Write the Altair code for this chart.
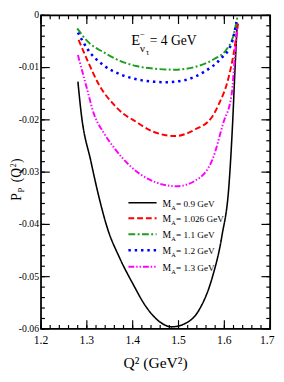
import altair as alt
import pandas as pd

# ---------------- data ----------------
q_09 = [1.2805, 1.2875, 1.309, 1.3265, 1.344, 1.372, 1.4006, 1.4288, 1.457, 1.4854,
        1.5136, 1.5453, 1.5735, 1.5947, 1.6105, 1.618, 1.623, 1.628]
p_09 = [-0.0127, -0.0186, -0.0280, -0.0348, -0.0405, -0.0465, -0.0514, -0.0557, -0.0585, -0.0596,
        -0.0590, -0.0563, -0.0502, -0.0422, -0.0320, -0.0207, -0.0108, -0.0016]

q_1026 = [1.282, 1.3017, 1.3265, 1.358, 1.379, 1.4006, 1.443, 1.492, 1.535, 1.5735,
          1.588, 1.609, 1.6195, 1.630]
p_1026 = [-0.0047, -0.0087, -0.0133, -0.0170, -0.0188, -0.0200, -0.0222, -0.0231, -0.0219, -0.0194,
          -0.0170, -0.0120, -0.0077, -0.0016]

q_11 = [1.279, 1.3017, 1.337, 1.372, 1.4076, 1.446, 1.492, 1.535, 1.577, 1.605, 1.619, 1.629]
p_11 = [-0.0025, -0.0050, -0.0071, -0.0087, -0.0097, -0.0102, -0.0104, -0.0099, -0.0084, -0.0065,
        -0.0041, -0.0001]

q_12 = [1.2805, 1.3017, 1.337, 1.376, 1.418, 1.446, 1.471, 1.5136, 1.556, 1.591, 1.616, 1.6265]
p_12 = [-0.0033, -0.0065, -0.0096, -0.0114, -0.0124, -0.0127, -0.0128, -0.0124, -0.0108, -0.0084,
        -0.0053, -0.0013]

q_13 = [1.2805, 1.298, 1.316, 1.337, 1.3617, 1.393, 1.436, 1.496, 1.535, 1.5735, 1.598, 1.616,
        1.623, 1.628]
p_13 = [-0.0076, -0.0133, -0.0190, -0.0225, -0.0256, -0.0287, -0.0314, -0.0327, -0.0317, -0.0277,
        -0.0205, -0.0151, -0.0077, -0.0022]

ma_labels = ["0.9", "1.026", "1.1", "1.2", "1.3"]

x_major = [1.2, 1.3, 1.4, 1.5, 1.6, 1.7]
x_major_labels = ["1.2", "1.3", "1.4", "1.5", "1.6", "1.7"]
y_major = [-0.06, -0.05, -0.04, -0.03, -0.02, -0.01, 0.0]
y_major_labels = ["-0.06", "-0.05", "-0.04", "-0.03", "-0.02", "-0.01", "0"]
x_minor = [round(1.2 + 0.02 * i, 3) for i in range(26)]
y_minor = [round(-0.06 + 0.002 * i, 4) for i in range(31)]

# ---------------- styling ----------------
W, H = 236, 323
FONT = "Liberation Serif"
styles = [
    (q_09, p_09, "#000000", [1, 0], 1.6),
    (q_1026, p_1026, "#ff0000", [6, 3], 2.0),
    (q_11, p_11, "#1e9e1e", [7, 2.5, 2, 2.5], 2.0),
    (q_12, p_12, "#0000ff", [2.5, 4], 2.6),
    (q_13, p_13, "#ff00ff", [6, 2, 1.5, 2, 1.5, 2], 2.0),
]

xscale = alt.Scale(domain=[1.2, 1.7], nice=False, zero=False)
yscale = alt.Scale(domain=[-0.06, 0.0], nice=False, zero=False)

layers = []
for (q, p, col, dash, sw) in styles:
    df = pd.DataFrame({"q": q, "p": p})
    layers.append(alt.Chart(df).mark_line(
        color=col, strokeDash=dash, strokeWidth=sw, interpolate="monotone", clip=True
    ).encode(
        x=alt.X("q:Q", scale=xscale, axis=None),
        y=alt.Y("p:Q", scale=yscale, axis=None),
        order="q:Q",
    ))

# ---------------- inward ticks on all four sides ----------------
def vticks(vals, length, top):
    d = pd.DataFrame({"v": vals})
    y0, y1 = (0, length) if top else (H, H - length)
    return alt.Chart(d).mark_rule(color="black", strokeWidth=1.2).encode(
        x=alt.X("v:Q", scale=xscale, axis=None), y=alt.value(y0), y2=alt.value(y1))

def hticks(vals, length, right):
    d = pd.DataFrame({"v": vals})
    x0, x1 = (W, W - length) if right else (0, length)
    return alt.Chart(d).mark_rule(color="black", strokeWidth=1.2).encode(
        y=alt.Y("v:Q", scale=yscale, axis=None), x=alt.value(x0), x2=alt.value(x1))

ticks = [
    vticks(x_major, 9, False), vticks(x_minor, 4, False),
    vticks(x_major, 9, True), vticks(x_minor, 4, True),
    hticks(y_major, 9, False), hticks(y_minor, 4, False),
    hticks(y_major, 9, True), hticks(y_minor, 4, True),
]

# ---------------- tick labels through the scales ----------------
xlab = alt.Chart(pd.DataFrame({"v": x_major[:-1], "t": x_major_labels[:-1]})).mark_text(
    font=FONT, fontSize=12, color="black", align="center", baseline="middle"
).encode(x=alt.X("v:Q", scale=xscale, axis=None), y=alt.value(H + 11), text="t:N")

xlab_last = alt.Chart(pd.DataFrame({"v": x_major[-1:], "t": x_major_labels[-1:]})).mark_text(
    font=FONT, fontSize=12, color="black", align="center", baseline="middle", dx=-3
).encode(x=alt.X("v:Q", scale=xscale, axis=None), y=alt.value(H + 11), text="t:N")

ylab = alt.Chart(pd.DataFrame({"v": y_major, "t": y_major_labels})).mark_text(
    font=FONT, fontSize=10, color="black", align="right", baseline="middle"
).encode(y=alt.Y("v:Q", scale=yscale, axis=None), x=alt.value(-2), text="t:N")

one = pd.DataFrame({"a": [0]})

def txt(s, x, y, size, angle=0, align="left", baseline="alphabetic", weight="normal"):
    return alt.Chart(one).mark_text(
        text=s, font=FONT, fontSize=size, color="black", align=align,
        baseline=baseline, angle=angle, fontWeight=weight
    ).encode(x=alt.value(x), y=alt.value(y))

# ---------------- axis titles ----------------
xtitle = txt("Q² (GeV²)", W / 2, H + 40, 16, align="center")

# rotated pieces (angle 270, left-aligned = text starts at y and runs upward)
ytitle = [
    txt("P", -21, 191, 14, angle=270),
    txt("P", -18, 182.5, 9, angle=270),
    txt("(Q", -21, 172, 14, angle=270),
    txt("2", -26, 156.5, 8, angle=270),
    txt(")", -21, 152, 14, angle=270),
]

# ---------------- annotation E_{nu-bar tau} = 4 GeV ----------------
annot = [
    txt("E", 93, 31, 15),
    txt("\u2212", 102, 22, 9),
    txt("ν", 102, 38, 11),
    txt("τ", 108, 41, 8),
    txt("= 4 GeV", 112, 31, 14),
]

# ---------------- legend ----------------
leg = []
rows_y = [193, 209, 225.5, 242, 259]
for (q, p, col, dash, sw), lab, ry in zip(styles, ma_labels, rows_y):
    leg.append(alt.Chart(one).mark_rule(color=col, strokeDash=dash, strokeWidth=sw).encode(
        x=alt.value(90), x2=alt.value(119), y=alt.value(ry)))
    leg.append(txt("M", 125, ry + 4, 10))
    leg.append(txt("A", 134, ry + 7, 6.5))
    leg.append(txt("= " + lab + " GeV", 139, ry + 4, 9.5))

chart = alt.layer(*layers, *ticks, xlab, xlab_last, ylab, xtitle, *ytitle, *annot, *leg).properties(
    width=W, height=H,
    autosize=alt.AutoSizeParams(type="none"),
    padding={"left": 34, "top": 2, "right": 6, "bottom": 45},
    background="white",
).configure_view(stroke="black", strokeWidth=1.8)

chart.save("out.html", embed_options={"renderer": "svg", "actions": False})
